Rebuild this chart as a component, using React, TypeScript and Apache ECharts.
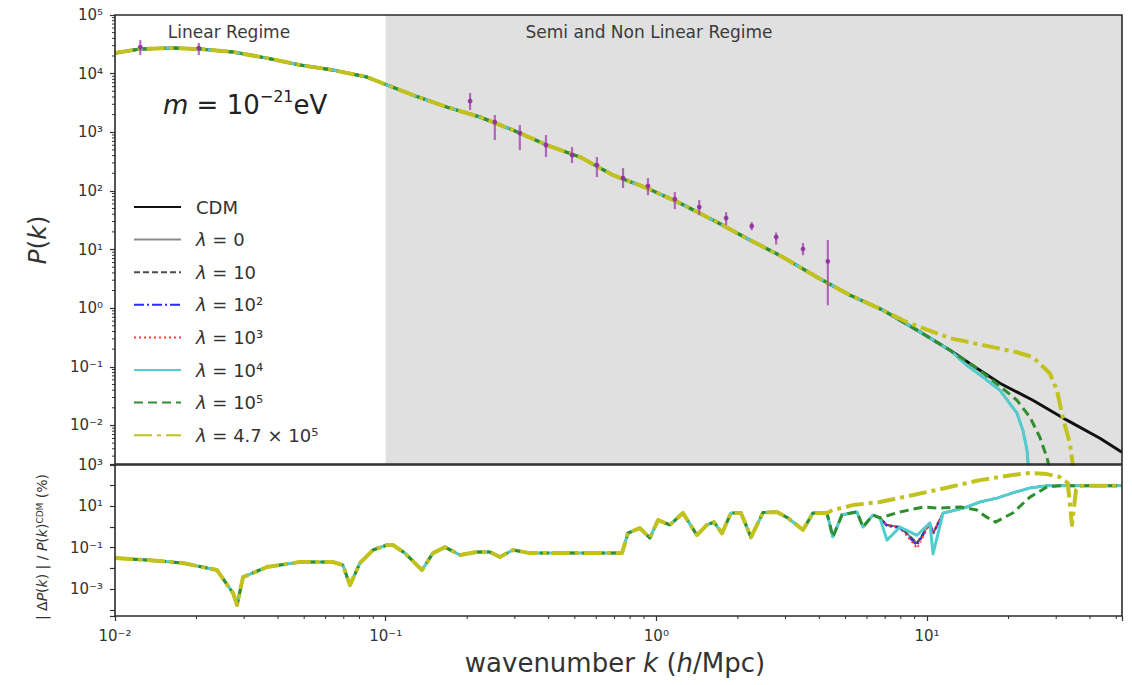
import React, { useEffect, useRef } from "react";
import * as echarts from "echarts";

const FONT = "DejaVu Sans";

// ---- P(k): shared shape of every model up to k ~ 7 h/Mpc ----
const kBase = [0.01, 0.01236, 0.01637, 0.02059, 0.02729, 0.03643, 0.04822, 0.06383, 0.08522, 0.113, 0.1262, 0.1684, 0.2228, 0.2953, 0.3941, 0.5223, 0.6913, 0.9227, 1.222, 1.674, 2.218, 2.938, 3.92, 5.188, 6.871];
const pBase = [22500, 26300, 27300, 26300, 23400, 18400, 14000, 11500, 8750, 5250, 4310, 2690, 1820, 1090, 605, 378, 186, 112, 61.9, 29.4, 14.5, 7.41, 3.38, 1.67, 0.925];

// CDM small-scale tail
const kCdmTail = [9.18, 12.16, 15.28, 18.58, 24.6, 32.86, 43.51, 52.48];
const pCdmTail = [0.422, 0.192, 0.0946, 0.0525, 0.0269, 0.0123, 0.00605, 0.00349];

// FDM cut-off, lambda = 0 ... 10^4
const kFdmTail = [9.18, 12.16, 14.03, 16.11, 18.58, 21.48, 22.6, 23.4, 23.8];
const pFdmTail = [0.422, 0.192, 0.106, 0.0664, 0.0399, 0.0162, 0.00828, 0.00378, 0.0015];

// lambda = 10^5
const kL5Tail = [9.18, 12.16, 15.28, 18.58, 21.48, 24.0, 26.1, 27.7, 28.7];
const pL5Tail = [0.422, 0.192, 0.0946, 0.0467, 0.0269, 0.0138, 0.00629, 0.00287, 0.0015];

// lambda = 4.7 x 10^5
const kL47Tail = [8.43, 12.16, 16.11, 21.48, 24.6, 28.4, 30.2, 31.7, 33.7, 34.9];
const pL47Tail = [0.577, 0.308, 0.234, 0.177, 0.146, 0.0778, 0.0399, 0.0138, 0.00497, 0.0015];

// measured band powers with errors
const errK = [0.0124, 0.0204, 0.205, 0.253, 0.313, 0.391, 0.488, 0.603, 0.753, 0.931, 1.17, 1.44, 1.81, 2.25, 2.77, 3.48, 4.3];
const errP = [28400, 27400, 3400, 1490, 968, 605, 408, 276, 165, 121, 72.4, 53, 34.4, 25.1, 16.3, 10.2, 6.3];
const errLo = [20700, 20700, 2390, 737, 497, 378, 298, 172, 112, 84.7, 48.9, 38.6, 26.1, 21.4, 12.2, 8.0, 1.12];
const errHi = [37400, 33300, 4670, 1970, 1330, 895, 559, 378, 245, 165, 95.5, 69.7, 43.4, 29.4, 19.5, 12.9, 14.5];

// ---- |dP| / P_CDM (%) ----
const kDiff = [0.01, 0.01346, 0.01782, 0.02381, 0.02729, 0.02825, 0.02972, 0.03643, 0.04822, 0.06383, 0.0695, 0.07379, 0.08035, 0.08975, 0.1011, 0.1064, 0.1178, 0.1361, 0.1495, 0.1656, 0.188, 0.2173, 0.2427, 0.2641, 0.2953, 0.3409, 0.4514, 0.6034, 0.7464, 0.7852, 0.869, 0.9467, 1.014, 1.122, 1.253, 1.412, 1.537, 1.632, 1.747, 1.887, 2.055, 2.236, 2.476, 2.788, 3.063, 3.48, 3.787, 4.265, 4.488, 4.849, 5.508, 5.797, 6.309, 6.699];
const dBase = [0.0316, 0.0251, 0.0182, 0.00832, 0.000646, 0.00017, 0.0038, 0.0117, 0.0204, 0.0204, 0.0145, 0.00155, 0.0182, 0.0776, 0.135, 0.135, 0.055, 0.00832, 0.055, 0.107, 0.0447, 0.0617, 0.0617, 0.0355, 0.0776, 0.055, 0.055, 0.055, 0.055, 0.513, 0.891, 0.295, 2.19, 1.26, 4.79, 0.407, 1.26, 1.74, 0.5, 4.79, 4.79, 0.316, 5.0, 5.37, 2.75, 0.724, 4.79, 4.79, 0.331, 3.9, 5.37, 1.0, 3.8, 2.75];

const kDiffTail = [7.11, 7.94, 9.18, 10.25, 10.52, 11.46, 12.89, 14.03, 15.67, 18.11, 20.74, 23.98, 27.73, 52.48];
const dGrayTail = [1.26, 1.0, 0.17, 1.58, 0.5, 4.79, 6.8, 9.3, 16.2, 25.1, 44.7, 77.6, 100, 100];
const dBlueTail = [1.1, 0.9, 0.13, 1.5, 0.45, 4.6, 6.8, 9.3, 16.2, 25.1, 44.7, 77.6, 100, 100];
const dRedTail = [1.26, 1.0, 0.095, 1.58, 0.5, 4.79, 6.8, 9.3, 16.2, 25.1, 44.7, 77.6, 100, 100];
const dCyanTail = [0.234, 1.0, 0.4, 1.58, 0.05, 4.79, 6.8, 9.3, 16.2, 25.1, 44.7, 77.6, 100, 100];

const kDiffL5 = [7.94, 9.7, 11.02, 13.3, 15.28, 16.6, 17.9, 20.74, 23.98, 27.73, 30.9, 52.48];
const dDiffL5 = [5.37, 9.33, 8.3, 9.3, 6.6, 3.0, 1.74, 4.8, 28, 87, 100, 100];

const kDiffL47 = [4.488, 5.32, 6.699, 8.89, 11.7, 15.67, 20.74, 23.98, 27.73, 30.9, 33.1, 34.3, 35.5, 36.7, 52.48];
const dDiffL47 = [6.6, 11.5, 16.2, 35.5, 77.6, 186, 331, 407, 363, 263, 135, 1.26, 63, 100, 100];

const K_MIN = 0.01;
const K_MAX = 52.5;
const P_MIN = 0.0022;
const P_MAX = 1e5;
const D_MIN = 5e-5;
const D_MAX = 1e3;

const names = ["CDM", "λ = 0", "λ = 10", "λ = 10²", "λ = 10³", "λ = 10⁴", "λ = 10⁵", "λ = 4.7 × 10⁵"];

const zip = (ks: number[], vs: number[]) => ks.map((k, i) => [k, vs[i]]);
const nBaseL47 = kDiff.filter((k) => k < 4.4).length;

const SUP: Record<string, string> = { "-": "⁻", "0": "⁰", "1": "¹", "2": "²", "3": "³", "4": "⁴", "5": "⁵", "6": "⁶", "7": "⁷", "8": "⁸", "9": "⁹" };
const powLabel = (v: number, oddOnly = false) => {
  const e = Math.log10(v);
  const r = Math.round(e);
  if (Math.abs(e - r) > 1e-6) return "";
  if (oddOnly && Math.abs(r) % 2 !== 1) return "";
  return "10" + String(r).split("").map((c) => SUP[c]).join("");
};

// minor tick positions (2..9 x decade)
const minorTicks = (lo: number, hi: number) => {
  const out: number[] = [];
  for (let e = -6; e <= 6; e++) {
    for (let m = 2; m <= 9; m++) {
      const v = m * Math.pow(10, e);
      if (v > lo && v < hi) out.push(v);
    }
  }
  return out;
};

const styles = [
  { color: "#111111", width: 3, type: "solid" },
  { color: "#8a8a8a", width: 2, type: "solid" },
  { color: "#4d4d4d", width: 2, type: [6, 3] },
  { color: "#2a2aff", width: 2, type: [10, 3, 2, 3] },
  { color: "#ff3b3b", width: 2, type: [2, 3] },
  { color: "#52cccc", width: 3, type: "solid" },
  { color: "#2f8f2f", width: 3, type: [9, 5] },
  { color: "#c2c21e", width: 4, type: [18, 5, 4, 5] },
];

const lineSeries = (idx: number, data: number[][], grid: number) => ({
  type: "line",
  name: names[idx],
  data,
  xAxisIndex: grid,
  yAxisIndex: grid,
  symbol: "none",
  showSymbol: false,
  silent: true,
  clip: true,
  z: 3 + idx,
  lineStyle: { ...styles[idx], cap: "butt", join: "round" },
  itemStyle: { color: styles[idx].color },
});

export default function App() {
  const ref = useRef<HTMLDivElement>(null);

  useEffect(() => {
    const chart = echarts.init(ref.current!, null, { renderer: "svg" });

    const base = zip(kBase, pBase);
    const diffBase = zip(kDiff, dBase);

    const topSeries = [
      lineSeries(0, base.concat(zip(kCdmTail, pCdmTail)), 0),
      lineSeries(1, base.concat(zip(kFdmTail, pFdmTail)), 0),
      lineSeries(2, base.concat(zip(kFdmTail, pFdmTail)), 0),
      lineSeries(3, base.concat(zip(kFdmTail, pFdmTail)), 0),
      lineSeries(4, base.concat(zip(kFdmTail, pFdmTail)), 0),
      lineSeries(5, base.concat(zip(kFdmTail, pFdmTail)), 0),
      lineSeries(6, base.concat(zip(kL5Tail, pL5Tail)), 0),
      lineSeries(7, base.concat(zip(kL47Tail, pL47Tail)), 0),
    ];
    const botSeries = [
      lineSeries(1, diffBase.concat(zip(kDiffTail, dGrayTail)), 1),
      lineSeries(2, diffBase.concat(zip(kDiffTail, dGrayTail)), 1),
      lineSeries(3, diffBase.concat(zip(kDiffTail, dBlueTail)), 1),
      lineSeries(4, diffBase.concat(zip(kDiffTail, dRedTail)), 1),
      lineSeries(5, diffBase.concat(zip(kDiffTail, dCyanTail)), 1),
      lineSeries(6, diffBase.concat(zip(kDiffL5, dDiffL5)), 1),
      lineSeries(7, diffBase.slice(0, nBaseL47).concat(zip(kDiffL47, dDiffL47)), 1),
    ];

    const tick = (x1: number, y1: number, x2: number, y2: number) => ({
      type: "line",
      shape: { x1, y1, x2, y2 },
      style: { stroke: "#333", lineWidth: 1 },
    });

    const axisLabel = (oddOnly: boolean) => ({
      formatter: (v: number) => powLabel(v, oddOnly),
      fontSize: 15, color: "#333", margin: 12, fontFamily: FONT,
    });

    const option: any = {
      animation: false,
      backgroundColor: "#ffffff",
      textStyle: { fontFamily: FONT },
      grid: [
        { left: 115, top: 15, width: 1007, height: 449 },
        { left: 115, top: 465, width: 1007, height: 151 },
      ],
      xAxis: [
        {
          type: "log", gridIndex: 0, min: K_MIN, max: K_MAX,
          axisLabel: { show: false }, axisTick: { show: false }, axisLine: { show: false }, splitLine: { show: false },
        },
        {
          type: "log", gridIndex: 1, min: K_MIN, max: K_MAX,
          axisLine: { show: false },
          axisTick: { show: true, length: 5, lineStyle: { color: "#333", width: 1.2 } },
          axisLabel: axisLabel(false),
          splitLine: { show: false },
        },
      ],
      yAxis: [
        {
          type: "log", gridIndex: 0, min: P_MIN, max: P_MAX,
          axisLine: { show: false },
          axisTick: { show: true, length: 5, lineStyle: { color: "#333", width: 1.2 } },
          axisLabel: axisLabel(false),
          splitLine: { show: false },
        },
        {
          type: "log", gridIndex: 1, min: D_MIN, max: D_MAX,
          axisLine: { show: false },
          axisTick: { show: true, length: 5, lineStyle: { color: "#333", width: 1.2 } },
          axisLabel: axisLabel(true),
          splitLine: { show: false },
        },
      ],
      legend: {
        data: names,
        orient: "vertical",
        left: 133,
        top: 198,
        padding: 0,
        itemWidth: 47,
        itemHeight: 14,
        itemGap: 14.6,
        selectedMode: false,
        itemStyle: { opacity: 0 },
        formatter: (n: string) => n.replace("λ", "{i|λ}"),
        textStyle: {
          fontFamily: FONT, fontSize: 18, color: "#333", lineHeight: 14, padding: [0, 0, 0, 10],
          rich: { i: { fontFamily: FONT, fontStyle: "italic", fontSize: 18, color: "#333", lineHeight: 14 } },
        },
      },
      series: [
        // shaded semi / non-linear regime
        {
          type: "line", xAxisIndex: 0, yAxisIndex: 0, data: [], silent: true, z: 1,
          markArea: {
            silent: true,
            itemStyle: { color: "#e0e0e0" },
            data: [[{ xAxis: 0.1 }, { xAxis: K_MAX }]],
          },
        },
        ...topSeries,
        ...botSeries,
        // band powers with error bars
        {
          type: "custom", xAxisIndex: 0, yAxisIndex: 0, z: 20, silent: true,
          data: errK.map((k, i) => [k, errLo[i], errHi[i], errP[i]]),
          encode: { x: 0, y: [1, 2, 3] },
          renderItem: (_p: any, api: any) => {
            const k = api.value(0);
            const a = api.coord([k, api.value(1)]);
            const b = api.coord([k, api.value(2)]);
            const c = api.coord([k, api.value(3)]);
            return {
              type: "group",
              children: [
                { type: "line", shape: { x1: a[0], y1: a[1], x2: b[0], y2: b[1] }, style: { stroke: "#a03cae", lineWidth: 2.2, opacity: 0.75 } },
                { type: "circle", shape: { cx: c[0], cy: c[1], r: 2.4 }, style: { fill: "#8e2a9e", opacity: 0.85 } },
              ],
            };
          },
        },
        // minor ticks, k axis
        {
          type: "custom", xAxisIndex: 1, yAxisIndex: 1, z: 30, silent: true, clip: false,
          data: minorTicks(K_MIN, K_MAX).map((v) => [v, D_MIN]),
          renderItem: (_p: any, api: any) => {
            const p = api.coord([api.value(0), api.value(1)]);
            return tick(p[0], p[1], p[0], p[1] + 3);
          },
        },
        // minor ticks, P(k) axis
        {
          type: "custom", xAxisIndex: 0, yAxisIndex: 0, z: 30, silent: true, clip: false,
          data: minorTicks(P_MIN, P_MAX).map((v) => [K_MIN, v]),
          renderItem: (_p: any, api: any) => {
            const p = api.coord([api.value(0), api.value(1)]);
            return tick(p[0], p[1], p[0] - 3, p[1]);
          },
        },
      ],
      graphic: [
        { type: "rect", z: 100, silent: true, shape: { x: 115, y: 15, width: 1007, height: 449 }, style: { fill: "none", stroke: "#2b2b2b", lineWidth: 1.6 } },
        { type: "rect", z: 100, silent: true, shape: { x: 115, y: 465, width: 1007, height: 151 }, style: { fill: "none", stroke: "#2b2b2b", lineWidth: 1.6 } },
        {
          type: "text", z: 100, x: 229, y: 32,
          style: { text: "Linear Regime", fontFamily: FONT, fontSize: 17, fill: "#3a3a3a", align: "center", verticalAlign: "middle" },
        },
        {
          type: "text", z: 100, x: 649, y: 32,
          style: { text: "Semi and Non Linear Regime", fontFamily: FONT, fontSize: 17, fill: "#3a3a3a", align: "center", verticalAlign: "middle" },
        },
        {
          type: "text", z: 100, x: 163, y: 105,
          style: {
            text: "{i|m} = 10{s|−21}eV",
            fontFamily: FONT, fontSize: 26, fill: "#222", align: "left", verticalAlign: "middle",
            rich: {
              i: { fontFamily: FONT, fontStyle: "italic", fontSize: 26, fill: "#222", lineHeight: 34 },
              s: { fontFamily: FONT, fontSize: 16, fill: "#222", verticalAlign: "top", lineHeight: 16 },
            },
          },
        },
        {
          type: "text", z: 100, x: 37, y: 240, rotation: Math.PI / 2,
          style: {
            text: "{i|P}({i|k})",
            fontFamily: FONT, fontSize: 25, fill: "#333", align: "center", verticalAlign: "middle",
            rich: { i: { fontFamily: FONT, fontStyle: "italic", fontSize: 25, fill: "#333" } },
          },
        },
        {
          type: "text", z: 100, x: 42, y: 547, rotation: Math.PI / 2,
          style: {
            text: "| Δ{i|P}({i|k}) | / {i|P}({i|k}){s|CDM} (%)",
            fontFamily: FONT, fontSize: 14, fill: "#333", align: "center", verticalAlign: "middle",
            rich: {
              i: { fontFamily: FONT, fontStyle: "italic", fontSize: 14, fill: "#333" },
              s: { fontFamily: FONT, fontSize: 9, fill: "#333", verticalAlign: "top" },
            },
          },
        },
        {
          type: "text", z: 100, x: 615, y: 663,
          style: {
            text: "wavenumber {i|k} ({i|h}/Mpc)",
            fontFamily: FONT, fontSize: 26, fill: "#333", align: "center", verticalAlign: "middle",
            rich: { i: { fontFamily: FONT, fontStyle: "italic", fontSize: 26, fill: "#333" } },
          },
        },
      ],
    };

    chart.setOption(option);
    return () => chart.dispose();
  }, []);

  return (
    <div
      ref={ref}
      style={{ position: "fixed", left: 0, top: 0, width: 1132, height: 685, background: "#ffffff" }}
    />
  );
}
